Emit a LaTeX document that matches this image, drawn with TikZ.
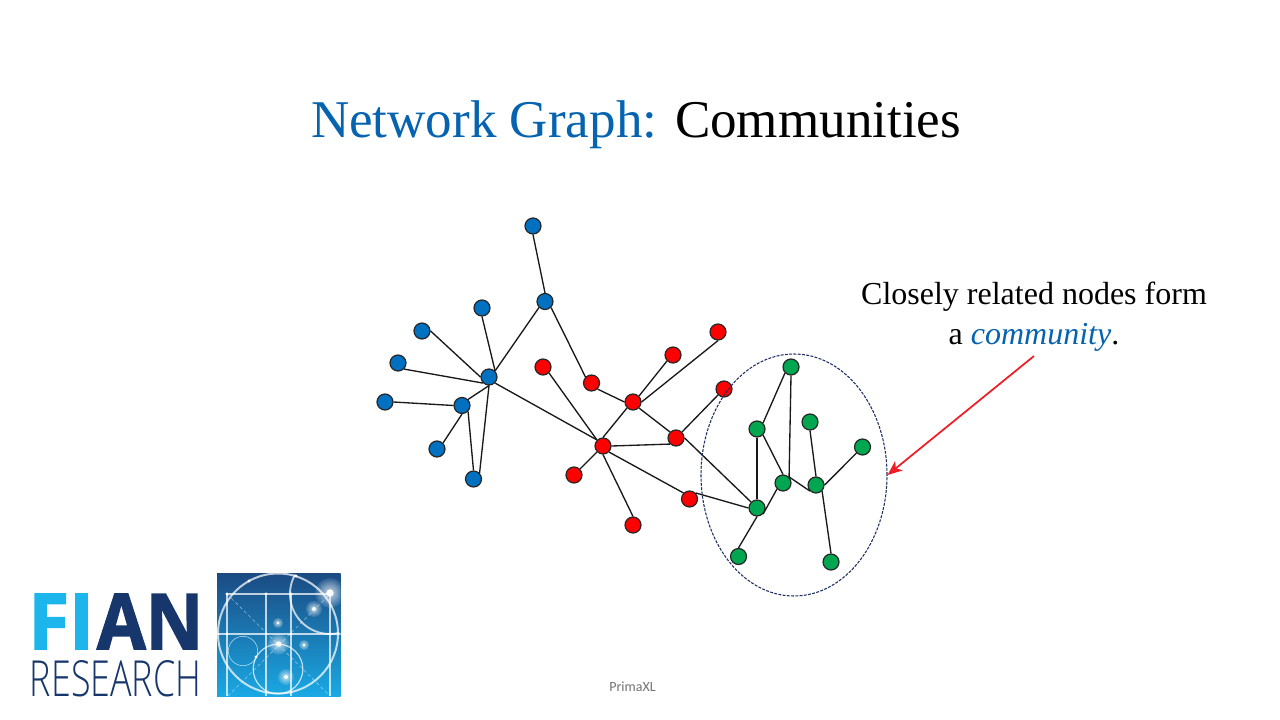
\documentclass[tikz,border=0pt]{standalone}
\usepackage{fontspec}
\setmainfont{Liberation Serif}
\newfontfamily\logobold{Open Sans}[UprightFont=* Bold,FakeBold=2]
\newfontfamily\logolight{Open Sans}[UprightFont=* Light]
\newfontfamily\notefont{Carlito}
\usetikzlibrary{shapes.geometric,arrows.meta}
\definecolor{titleblue}{HTML}{0563B0}
\definecolor{nblue}{HTML}{0070C0}
\definecolor{nred}{HTML}{FF0000}
\definecolor{ngreen}{HTML}{00A650}
\definecolor{logocyan}{HTML}{1CB5EC}
\definecolor{logonavy}{HTML}{17366C}
\definecolor{ringnavy}{HTML}{1F2F60}
\definecolor{arrowred}{HTML}{EE1C25}
\definecolor{emtop}{HTML}{1B4A82}
\definecolor{emmid}{HTML}{1270B6}
\definecolor{embot}{HTML}{1AA9E4}
\tikzset{
  dot/.style={circle,draw=black!85,line width=0.9pt,minimum size=12pt,inner sep=0pt},
  bluedot/.style={dot,fill=nblue},
  reddot/.style={dot,fill=nred},
  greendot/.style={dot,fill=ngreen},
  edge/.style={draw=black!90,line width=1pt},
  txt/.style={inner sep=0pt,outer sep=0pt,text=black},
  logoline/.style={draw=white,opacity=0.72,line width=0.9pt},
  logothin/.style={draw=white,opacity=0.6,line width=0.5pt},
  logodash/.style={draw=white,opacity=0.5,line width=0.45pt,dash pattern=on 2.5pt off 2pt}
}
\newcommand{\glow}[3]{%
  \foreach \k in {1.0,0.85,0.7,0.58,0.46,0.36,0.27}{\fill[white,opacity=0.13] (#1,#2) circle ({#3*\k});}
  \fill[white] (#1,#2) circle ({#3*0.25});}
\begin{document}
\begin{tikzpicture}[x=0.75pt,y=-0.75pt]
\useasboundingbox (0,0) rectangle (1280,720);
\fill[white] (0,0) rectangle (1280,720);

% title
\node[txt,anchor=center] (title) at (636,125) {\fontsize{39.8}{48}\selectfont\textcolor{titleblue}{Network Graph:} Communities};

% blue
\node[bluedot] (b1) at (533,226) {};
\node[bluedot] (b2) at (545,301.5) {};
\node[bluedot] (b3) at (482,308) {};
\node[bluedot] (b4) at (422,331) {};
\node[bluedot] (b5) at (398,363) {};
\node[bluedot] (b6) at (385,402) {};
\node[bluedot] (hub) at (489,377) {};
\node[bluedot] (b8) at (462,405.5) {};
\node[bluedot] (b9) at (437,449) {};
\node[bluedot] (b10) at (473.5,479) {};
% red
\node[reddot] (r1) at (543,367) {};
\node[reddot] (r2) at (591.5,383) {};
\node[reddot] (r3) at (633,402) {};
\node[reddot] (r4) at (673,355) {};
\node[reddot] (r5) at (718,332) {};
\node[reddot] (r6) at (724,389) {};
\node[reddot] (r7) at (676,438) {};
\node[reddot] (r8) at (603,446) {};
\node[reddot] (r9) at (574,475) {};
\node[reddot] (r10) at (633,525) {};
\node[reddot] (r11) at (689.5,499) {};
% green
\node[greendot] (g1) at (791,367) {};
\node[greendot] (g2) at (757,429) {};
\node[greendot] (g3) at (810,422) {};
\node[greendot] (g4) at (862.5,447) {};
\node[greendot] (g5) at (783,483) {};
\node[greendot] (g6) at (816,485) {};
\node[greendot] (g7) at (757,508) {};
\node[greendot] (g8) at (738.5,556.5) {};
\node[greendot] (g9) at (831,562) {};

% edges, glued to the connection sites of the circles
\foreach \a/\b in {
  b1.south/b2.north,
  b2.south west/hub.north east,
  b2.south east/r2.north west,
  b3.south/hub.north east,
  b4.east/hub.west,
  b5.south east/hub.south west,
  b6.east/b8.west,
  hub.south/b8.north east,
  hub.south/b10.north east,
  b8.south east/b10.north,
  b8.south/b9.north east,
  hub.south east/r8.north west,
  r1.south east/r8.north west,
  r2.south east/r3.west,
  r3.south west/r8.north,
  r3.north east/r4.south west,
  r3.east/r5.south,
  r3.south east/r7.north west,
  r7.north east/r6.south west,
  r7.east/g7.north west,
  r8.east/r7.south west,
  r8.south east/r11.north west,
  r8.south/r10.north,
  r8.south west/r9.north east,
  r11.north east/g7.west,
  g1.south west/g2.north east,
  g1.south/g5.north east,
  g2.south/g7.north,
  g2.south east/g5.north,
  g5.north east/g6.south west,
  g5.south west/g7.south east,
  g3.south/g6.north,
  g4.south west/g6.east,
  g6.south east/g9.north,
  g7.south/g8.north}
  \draw[edge] (\a) -- (\b);

% community ring
\node[ellipse,draw=ringnavy,line width=0.8pt,dash pattern=on 2.2pt off 1pt,minimum width=139.5pt,minimum height=181.5pt,inner sep=0pt] (ring) at (794,475) {};

% callout
\node[txt,align=center,anchor=center,font=\fontsize{24}{30}\selectfont] (note) at (1034,316.5) {Closely related nodes form\\a \textcolor{titleblue}{\textit{community}}.};
\coordinate (arrowstart) at (1034,356);
\draw[arrowred,line width=1.3pt,-{Stealth[length=11pt,width=9pt,inset=3pt]}] (arrowstart) -- (ring.east);

% footer
\node[txt,text=black!55] (prima) at (632.5,687) {\notefont\fontsize{10.5}{12}\selectfont PrimaXL};

% logo wordmark
\node[txt,anchor=base west,text=logocyan] (fi) at (28.4,649) {\resizebox{49pt}{41.25pt}{\logobold FI}};
\node[txt,anchor=base west,text=logonavy] (an) at (97,649) {\resizebox{79.6pt}{41.25pt}{\logobold AN}};
\node[txt,anchor=base west,text=logonavy] (res) at (30,696) {\resizebox{128.3pt}{27pt}{\logolight RESEARCH}};

% logo emblem
\begin{scope}
\clip (217,573) rectangle (340.5,696);
\shade[top color=emtop,middle color=emmid,bottom color=embot] (217,573) rectangle (340.5,696);
\draw[logodash] (227,594) -- (330,696);
\draw[logodash] (228,696) -- (330,594);
\draw[logoline] (227,594) -- (330,594);
\draw[logoline] (217,634) -- (340.5,634);
\foreach \x in {227,266,291,330}{\draw[logoline] (\x,594) -- (\x,696);}
\draw[logoline,line width=1.5pt] (278,633.5) circle [radius=45pt];
\begin{scope}
\clip (278,633.5) circle [radius=46pt];
\draw[logoline,line width=1.4pt] (330,594) circle [radius=30pt];
\end{scope}
\draw[logothin] (243,651) circle [radius=11pt];
\draw[logoline] (278,669) circle [radius=18.6pt];
\glow{330}{593}{11pt}
\glow{314}{609}{6pt}
\glow{278.5}{644}{8pt}
\glow{286}{677}{6pt}
\glow{304}{645}{4pt}
\glow{278}{623}{4pt}
\foreach \p in {(227,594),(266,594),(291,594),(227,634),(291,634),(330,634),(249,581),(296,576),(256,657),(291,692)}{\fill[white] \p circle (1.3pt);}
\end{scope}
\end{tikzpicture}
\end{document}
